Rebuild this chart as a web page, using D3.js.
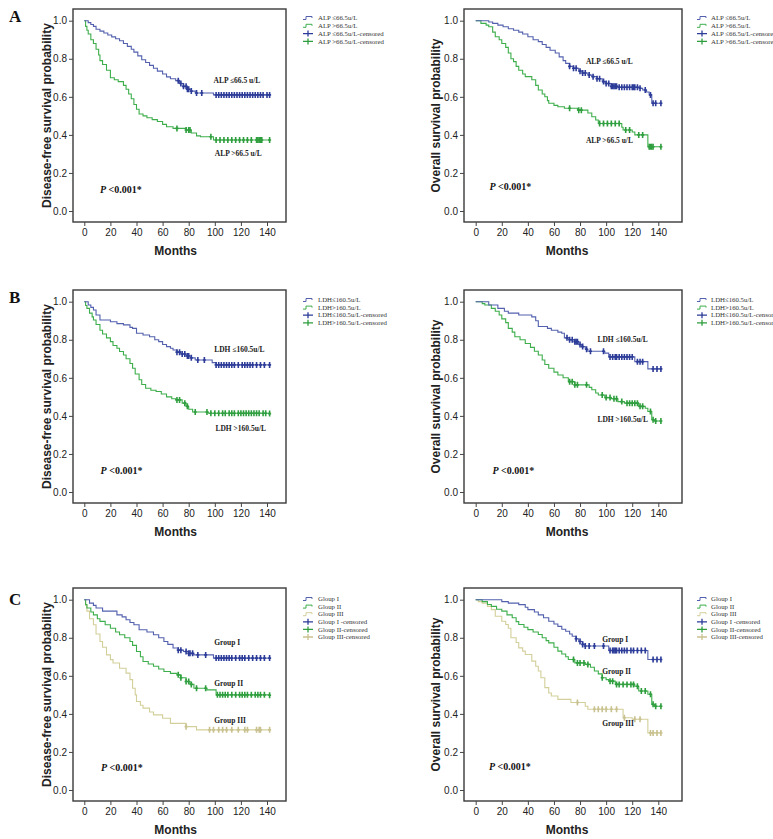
<!DOCTYPE html>
<html>
<head>
<meta charset="utf-8">
<script src="https://cdn.jsdelivr.net/npm/d3@7"></script>
<style>
  body { margin: 0; background: #fff; }
  svg { display: block; }
</style>
</head>
<body>
<div id="canvas"></div>
<script>
// tick labels
const monthTicks = [0, 20, 40, 60, 80, 100, 120, 140];
const probTicks = [0, 0.2, 0.4, 0.6, 0.8, 1.0];

// --- A: ALP, disease-free survival
const dfsAlpLow = [[0,1],[3,0.99],[5,0.98],[7,0.97],[9,0.955],[12,0.945],[15,0.935],[18,0.925],[21,0.915],[24,0.905],[27,0.895],[30,0.88],[33,0.865],[36,0.85],[38,0.835],[41,0.815],[44,0.795],[47,0.78],[50,0.765],[53,0.75],[56,0.735],[60,0.72],[63,0.705],[66,0.695],[70,0.685],[73,0.67],[76,0.655],[79,0.64],[82,0.63],[85,0.62],[99,0.61],[142,0.61]];
const dfsAlpLowCens = [72,74,76,78,79,80,82,86,90,101,103,105,107,109,111,113,115,117,119,121,123,125,127,129,131,133,135,137,140,142];
const dfsAlpHigh = [[0,1],[1,0.97],[2,0.95],[3,0.93],[5,0.9],[7,0.88],[9,0.85],[11,0.82],[12,0.79],[14,0.77],[17,0.74],[20,0.7],[23,0.69],[26,0.68],[30,0.66],[32,0.64],[34,0.615],[36,0.59],[38,0.56],[40,0.535],[42,0.51],[45,0.5],[48,0.49],[52,0.48],[56,0.47],[60,0.455],[63,0.443],[68,0.434],[78,0.426],[82,0.41],[86,0.395],[89,0.39],[99,0.373],[142,0.373]];
const dfsAlpHighCens = [71,78,80,81,97,101,104,107,110,113,116,119,122,125,128,132,133,134,135,136,142];

// --- A: ALP, overall survival
const osAlpLow = [[0,1],[10,0.993],[13,0.986],[17,0.977],[21,0.968],[25,0.958],[29,0.95],[33,0.94],[36,0.93],[40,0.916],[44,0.9],[48,0.89],[51,0.875],[54,0.86],[57,0.845],[61,0.83],[64,0.81],[67,0.79],[69,0.776],[72,0.76],[75,0.75],[79,0.735],[82,0.725],[86,0.715],[89,0.706],[93,0.695],[97,0.68],[100,0.67],[104,0.655],[109,0.65],[126,0.645],[128,0.636],[131,0.625],[133,0.61],[135,0.566],[142,0.566]];
const osAlpLowCens = [72,75,77,80,82,84,87,90,93,95,98,100,102,104,105,106,107,108,110,112,114,116,118,120,121,122,124,126,130,134,136,138,142];
const osAlpHigh = [[0,1],[4,0.986],[8,0.977],[10,0.968],[13,0.94],[15,0.916],[18,0.9],[20,0.88],[23,0.86],[25,0.83],[27,0.8],[29,0.785],[31,0.76],[33,0.74],[36,0.72],[38,0.706],[43,0.69],[46,0.66],[48,0.636],[51,0.615],[53,0.6],[55,0.58],[56,0.566],[60,0.555],[63,0.548],[68,0.54],[78,0.53],[86,0.515],[89,0.495],[92,0.478],[94,0.46],[112,0.44],[113,0.426],[120,0.415],[122,0.4],[131,0.4],[132,0.338],[142,0.338]];
const osAlpHighCens = [72,79,81,95,98,101,104,107,110,115,118,125,128,133,134,135,136,142];

// --- B: LDH, disease-free survival
const dfsLdhLow = [[0,1],[3,0.983],[5,0.97],[7,0.956],[9,0.93],[12,0.904],[20,0.895],[25,0.885],[30,0.878],[35,0.865],[37,0.86],[40,0.834],[45,0.825],[50,0.816],[54,0.8],[57,0.79],[60,0.775],[63,0.764],[66,0.755],[68,0.746],[71,0.735],[74,0.725],[78,0.715],[82,0.705],[85,0.694],[98,0.68],[101,0.668],[142,0.668]];
const dfsLdhLowCens = [71,73,75,77,79,80,82,87,92,101,103,105,107,109,111,113,115,118,121,123,125,127,129,132,135,138,142];
const dfsLdhHigh = [[0,1],[1,0.98],[2,0.965],[4,0.94],[6,0.92],[7,0.904],[9,0.88],[12,0.85],[14,0.83],[17,0.81],[20,0.79],[22,0.77],[25,0.755],[27,0.738],[30,0.72],[32,0.7],[35,0.675],[37,0.65],[39,0.62],[42,0.59],[44,0.565],[47,0.545],[51,0.535],[55,0.528],[59,0.515],[63,0.5],[67,0.49],[70,0.484],[75,0.467],[78,0.45],[80,0.435],[83,0.42],[95,0.414],[142,0.412]];
const dfsLdhHighCens = [71,73,77,79,85,94,97,100,103,106,108,111,113,115,118,120,122,124,126,128,130,132,134,137,139,142];

// --- B: LDH, overall survival
const osLdhLow = [[0,1],[10,0.983],[17,0.965],[22,0.95],[25,0.94],[33,0.93],[43,0.92],[46,0.9],[48,0.87],[55,0.86],[58,0.85],[63,0.84],[66,0.834],[68,0.81],[72,0.8],[76,0.79],[79,0.775],[81,0.764],[84,0.75],[86,0.74],[99,0.73],[102,0.71],[122,0.685],[132,0.647],[142,0.647]];
const osLdhLowCens = [70,72,74,76,77,78,80,82,85,88,98,103,105,107,108,110,112,114,116,118,120,124,126,128,136,139,142];
const osLdhHigh = [[0,1],[5,0.99],[7,0.983],[12,0.965],[15,0.95],[18,0.93],[20,0.91],[23,0.89],[25,0.86],[28,0.84],[30,0.816],[34,0.8],[38,0.78],[42,0.76],[45,0.74],[48,0.72],[51,0.694],[53,0.67],[56,0.65],[60,0.63],[63,0.615],[67,0.6],[71,0.58],[76,0.563],[87,0.55],[89,0.537],[92,0.52],[94,0.51],[99,0.496],[104,0.49],[109,0.475],[114,0.467],[125,0.45],[130,0.44],[132,0.423],[135,0.38],[137,0.373],[142,0.373]];
const osLdhHighCens = [72,74,76,78,85,97,100,103,106,108,112,116,118,120,122,124,126,128,134,136,138,142];

// --- C: groups, disease-free survival
const dfsG1 = [[0,1],[4,0.982],[7,0.97],[9,0.956],[14,0.94],[25,0.92],[29,0.91],[32,0.895],[35,0.88],[38,0.868],[42,0.842],[48,0.83],[53,0.816],[57,0.8],[61,0.78],[64,0.765],[68,0.746],[72,0.735],[76,0.728],[80,0.718],[84,0.71],[99,0.693],[142,0.693]];
const dfsG1Cens = [72,74,78,80,81,83,87,93,101,103,105,107,109,111,113,116,119,121,123,126,129,132,135,138,142];
const dfsG2 = [[0,1],[1,0.975],[2,0.956],[5,0.935],[7,0.92],[10,0.9],[12,0.886],[16,0.868],[20,0.85],[24,0.83],[27,0.816],[31,0.8],[35,0.78],[37,0.76],[40,0.728],[43,0.7],[45,0.675],[49,0.662],[53,0.65],[57,0.636],[61,0.623],[66,0.613],[71,0.605],[74,0.59],[78,0.57],[81,0.555],[84,0.535],[94,0.526],[101,0.5],[142,0.498]];
const dfsG2Cens = [72,74,78,80,82,86,93,102,104,106,108,110,113,116,119,121,123,125,128,131,133,135,138,142];
const dfsG3 = [[0,1],[1,0.97],[2,0.94],[4,0.9],[7,0.868],[9,0.82],[12,0.78],[14,0.75],[17,0.71],[20,0.685],[22,0.667],[27,0.64],[32,0.614],[35,0.58],[37,0.535],[39,0.5],[40,0.465],[43,0.445],[45,0.43],[50,0.41],[53,0.395],[60,0.377],[66,0.35],[78,0.333],[86,0.316],[142,0.316]];
const dfsG3Cens = [78,96,99,103,106,109,113,118,123,125,132,134,135,142];

// --- C: groups, overall survival
const osG1 = [[0,1],[20,0.99],[25,0.982],[33,0.974],[38,0.96],[40,0.948],[45,0.935],[48,0.92],[52,0.905],[56,0.887],[60,0.872],[63,0.86],[66,0.845],[69,0.834],[72,0.82],[74,0.808],[77,0.795],[79,0.78],[82,0.765],[84,0.757],[102,0.733],[132,0.686],[142,0.686]];
const osG1Cens = [77,80,82,84,87,91,98,103,105,106,107,108,110,112,114,116,119,121,124,127,130,136,139,142];
const osG2 = [[0,1],[5,0.99],[9,0.975],[12,0.965],[16,0.95],[20,0.94],[24,0.92],[28,0.905],[31,0.885],[33,0.87],[37,0.855],[40,0.843],[44,0.83],[48,0.817],[51,0.8],[54,0.785],[56,0.773],[60,0.75],[63,0.73],[66,0.715],[69,0.7],[71,0.686],[76,0.668],[84,0.66],[88,0.645],[91,0.625],[94,0.61],[97,0.59],[100,0.58],[102,0.572],[107,0.555],[122,0.545],[125,0.52],[132,0.503],[135,0.45],[137,0.44],[142,0.44]];
const osG2Cens = [75,78,80,83,86,97,103,105,108,110,113,116,119,121,124,127,130,134,136,138,142];
const osG3 = [[0,1],[2,0.99],[5,0.982],[9,0.965],[12,0.948],[15,0.913],[20,0.887],[23,0.87],[25,0.85],[27,0.8],[31,0.775],[33,0.747],[36,0.73],[38,0.712],[43,0.677],[46,0.65],[48,0.625],[50,0.59],[53,0.538],[56,0.51],[58,0.494],[63,0.476],[73,0.46],[84,0.44],[86,0.424],[113,0.38],[120,0.372],[132,0.3],[142,0.3]];
const osG3Cens = [78,91,94,97,100,104,108,114,122,126,134,136,139,142];

// legend / label text
const alpLegend = ["ALP \u226466.5u/L", "ALP >66.5u/L", "ALP \u226466.5u/L-censored", "ALP >66.5u/L-censored"];
const ldhLegend = ["LDH\u2264160.5u/L", "LDH>160.5u/L", "LDH\u2264160.5u/L-censored", "LDH>160.5u/L-censored"];
const groupLegend = ["Gloup I", "Gloup II", "Gloup III", "Gloup I -censored", "Gloup II-censored", "Gloup III-censored"];

const BLUE = "#5360ad", BLUE_D = "#2c3c98";
const GREEN = "#3dae4b", GREEN_D = "#2f9e3e";
const BEIGE = "#d3cf9a", BEIGE_D = "#c9c290";

const cols = [
  { left: 73, width: 213, x0: 11.3, x140: 194, yTitleX: -26.5, legSym: 303, legText: 318 },
  { left: 464, width: 218, x0: 11.7, x140: 194.3, yTitleX: -28.5, legSym: 697, legText: 711 }
];
const rows = [
  { top: 9, letter: "A", letterY: 22, legY: 18, legStep: 7.8 },
  { top: 290, letter: "B", letterY: 303, legY: 300, legStep: 7.6 },
  { top: 588, letter: "C", letterY: 605, legY: 599, legStep: 7.6 }
];
const frameH = 213;

const panels = [
  { row: 0, col: 0, title: "Disease-free survival probability", legend: alpLegend, pAt: [12, 0.093],
    series: [
      { steps: dfsAlpLow, cens: dfsAlpLowCens, c: BLUE, cd: BLUE_D, label: "ALP \u226466.5 u/L", at: [99, 0.67] },
      { steps: dfsAlpHigh, cens: dfsAlpHighCens, c: GREEN, cd: GREEN_D, label: "ALP >66.5 u/L", at: [100, 0.29] }
    ] },
  { row: 0, col: 1, title: "Overall survival probability", legend: alpLegend, pAt: [10.5, 0.11],
    series: [
      { steps: osAlpLow, cens: osAlpLowCens, c: BLUE, cd: BLUE_D, label: "ALP \u226466.5 u/L", at: [84.5, 0.772] },
      { steps: osAlpHigh, cens: osAlpHighCens, c: GREEN, cd: GREEN_D, label: "ALP >66.5 u/L", at: [84.5, 0.356] }
    ] },
  { row: 1, col: 0, title: "Disease-free survival probability", legend: ldhLegend, pAt: [12.5, 0.094],
    series: [
      { steps: dfsLdhLow, cens: dfsLdhLowCens, c: BLUE, cd: BLUE_D, label: "LDH \u2264160.5u/L", at: [99.5, 0.738] },
      { steps: dfsLdhHigh, cens: dfsLdhHighCens, c: GREEN, cd: GREEN_D, label: "LDH >160.5u/L", at: [100.5, 0.322] }
    ] },
  { row: 1, col: 1, title: "Overall survival probability", legend: ldhLegend, pAt: [12.8, 0.094],
    series: [
      { steps: osLdhLow, cens: osLdhLowCens, c: BLUE, cd: BLUE_D, label: "LDH \u2264160.5u/L", at: [93.3, 0.79] },
      { steps: osLdhHigh, cens: osLdhHighCens, c: GREEN, cd: GREEN_D, label: "LDH >160.5u/L", at: [93.3, 0.367] }
    ] },
  { row: 2, col: 0, title: "Disease-free survival probability", legend: groupLegend, pAt: [12.8, 0.1],
    series: [
      { steps: dfsG1, cens: dfsG1Cens, c: BLUE, cd: BLUE_D, label: "Group I", at: [99.6, 0.76] },
      { steps: dfsG2, cens: dfsG2Cens, c: GREEN, cd: GREEN_D, label: "Group II", at: [99.6, 0.549] },
      { steps: dfsG3, cens: dfsG3Cens, c: BEIGE, cd: BEIGE_D, label: "Group III", at: [99.6, 0.354] }
    ] },
  { row: 2, col: 1, title: "Overall survival probability", legend: groupLegend, pAt: [10.2, 0.105],
    series: [
      { steps: osG1, cens: osG1Cens, c: BLUE, cd: BLUE_D, label: "Group I", at: [97, 0.778] },
      { steps: osG2, cens: osG2Cens, c: GREEN, cd: GREEN_D, label: "Group II", at: [97, 0.607] },
      { steps: osG3, cens: osG3Cens, c: BEIGE, cd: BEIGE_D, label: "Group III", at: [97, 0.337] }
    ] }
];

const svg = d3.select("#canvas").append("svg")
  .attr("width", 773).attr("height", 839)
  .style("background", "#fff");

const sans = "Arial, 'Liberation Sans', sans-serif";
const serif = "'Times New Roman', 'Liberation Serif', serif";

// survival value at time t (to put censor marks on the curve)
function survAt(steps, t) {
  let s = steps[0][1];
  steps.forEach(d => { if (d[0] <= t) s = d[1]; });
  return s;
}

rows.forEach(r => {
  svg.append("text").attr("x", 9).attr("y", r.letterY)
    .attr("font-family", serif).attr("font-weight", "bold").attr("font-size", 17)
    .attr("fill", "#111").text(r.letter);
});

panels.forEach(p => {
  const c = cols[p.col], r = rows[p.row];
  const g = svg.append("g").attr("transform", `translate(${c.left},${r.top})`);

  const x = d3.scaleLinear().domain([0, 140]).range([c.x0, c.x140]);
  const y = d3.scaleLinear().domain([0, 1]).range([202, 11.7]);

  g.append("rect").attr("width", c.width).attr("height", frameH)
    .attr("fill", "none").attr("stroke", "#3a3a3a").attr("stroke-width", 1.4);

  const xa = g.append("g").attr("transform", `translate(0,${frameH})`)
    .call(d3.axisBottom(x).tickValues(monthTicks).tickSize(4).tickPadding(3).tickFormat(d3.format("d")));
  const ya = g.append("g")
    .call(d3.axisLeft(y).tickValues(probTicks).tickSize(4).tickPadding(2).tickFormat(d3.format(".1f")));
  [xa, ya].forEach(a => {
    a.select(".domain").remove();
    a.attr("font-family", sans).attr("font-size", 10);
    a.selectAll("text").attr("fill", "#222");
    a.selectAll("line").attr("stroke", "#444");
  });

  g.append("text")
    .attr("transform", `translate(${c.yTitleX},${frameH / 2}) rotate(-90)`)
    .attr("text-anchor", "middle").attr("dy", "0.35em")
    .attr("font-family", sans).attr("font-weight", "bold").attr("font-size", 12)
    .attr("fill", "#222").text(p.title);

  g.append("text")
    .attr("x", (x(0) + x(140)) / 2).attr("y", frameH + 33)
    .attr("text-anchor", "middle")
    .attr("font-family", sans).attr("font-weight", "bold").attr("font-size", 12)
    .attr("fill", "#222").text("Months");

  const line = d3.line().x(d => x(d[0])).y(d => y(d[1])).curve(d3.curveStepAfter);

  p.series.slice().reverse().forEach(s => {
    g.append("path").datum(s.steps)
      .attr("d", line).attr("fill", "none")
      .attr("stroke", s.c).attr("stroke-width", 1.1);
    g.selectAll(null).data(s.cens).enter().append("path")
      .attr("d", t => {
        const cx = x(t), cy = y(survAt(s.steps, t));
        return `M${cx},${cy - 3}V${cy + 3}M${cx - 1.5},${cy}H${cx + 1.5}`;
      })
      .attr("stroke", s.cd).attr("stroke-width", 1.6).attr("fill", "none");
  });

  p.series.forEach(s => {
    g.append("text").attr("x", x(s.at[0])).attr("y", y(s.at[1]))
      .attr("font-family", serif).attr("font-weight", "bold").attr("font-size", 7.5)
      .attr("fill", "#222").text(s.label);
  });

  const pt = g.append("text").attr("x", x(p.pAt[0])).attr("y", y(p.pAt[1]))
    .attr("font-family", serif).attr("font-weight", "bold").attr("font-size", 10).attr("fill", "#111");
  pt.append("tspan").attr("font-style", "italic").text("P");
  pt.append("tspan").text(" <0.001*");

  // legend
  const nCurves = p.series.length;
  const leg = svg.append("g");
  p.legend.forEach((txt, i) => {
    const s = p.series[i % nCurves];
    const cy = r.legY + i * r.legStep;
    const sx = c.legSym;
    if (i < nCurves) {
      leg.append("path")
        .attr("d", `M${sx},${cy + 1.5}H${sx + 3}V${cy - 1.5}H${sx + 9}V${cy}`)
        .attr("fill", "none").attr("stroke", s.c).attr("stroke-width", 1);
    } else {
      leg.append("path")
        .attr("d", `M${sx},${cy}H${sx + 10}M${sx + 5},${cy - 3}V${cy + 3}`)
        .attr("fill", "none").attr("stroke", s.cd).attr("stroke-width", 1.3);
    }
    leg.append("text").attr("x", c.legText).attr("y", cy).attr("dy", "0.32em")
      .attr("font-family", serif).attr("font-size", 6.8).attr("fill", "#333").text(txt);
  });
});
</script>
</body>
</html>
